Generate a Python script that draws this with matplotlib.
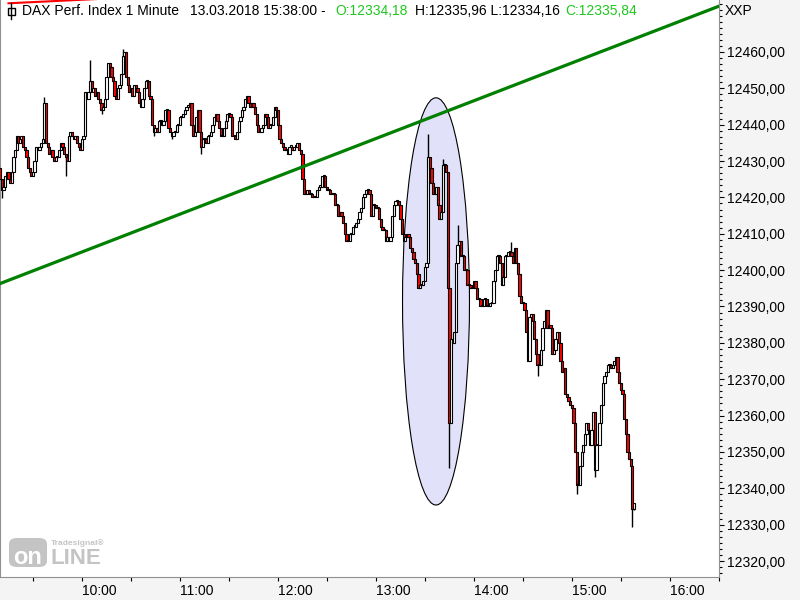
import numpy as np
import matplotlib.pyplot as plt
from matplotlib.patches import Ellipse, FancyBboxPatch, Rectangle
from matplotlib.lines import Line2D
from matplotlib.ticker import AutoMinorLocator

plt.rcParams['font.family'] = ['Liberation Sans', 'DejaVu Sans']

# DAX 1-minute closes from 09:10 to 15:38
closes = [
    12425, 12422, 12423, 12426, 12427, 12425, 12424, 12427, 12431, 12433,
    12437, 12435, 12436, 12437, 12434, 12433, 12431, 12428, 12427, 12426,
    12427, 12430, 12434, 12433, 12434, 12435, 12436, 12446, 12435, 12434,
    12432, 12433, 12431, 12430, 12431, 12431, 12433, 12435, 12434, 12432,
    12431, 12430, 12437, 12438, 12437, 12436, 12437, 12435, 12434, 12433,
    12436, 12437, 12449, 12447, 12449, 12452, 12449, 12450, 12448, 12449,
    12447, 12446, 12444, 12445, 12447, 12453, 12457, 12456, 12453, 12452,
    12448, 12447, 12450, 12451, 12454, 12459, 12460, 12453, 12451, 12449,
    12450, 12448, 12451, 12450, 12449, 12446, 12445, 12447, 12450, 12452,
    12452, 12448, 12447, 12440, 12438, 12439, 12438, 12441, 12441, 12440,
    12441, 12444, 12444, 12439, 12438, 12437, 12438, 12438, 12440, 12440,
    12442, 12442, 12443, 12444, 12445, 12445, 12446, 12440, 12437, 12438,
    12442, 12444, 12438, 12434, 12436, 12436, 12435, 12437, 12437, 12438,
    12440, 12442, 12443, 12441, 12439, 12437, 12437, 12439, 12441, 12443,
    12443, 12442, 12437, 12437, 12436, 12438, 12441, 12442, 12444, 12445,
    12447, 12448, 12446, 12445, 12446, 12445, 12443, 12440, 12438, 12438,
    12439, 12440, 12443, 12442, 12439, 12440, 12440, 12442, 12445, 12444,
    12440, 12436, 12435, 12434, 12433, 12433, 12432, 12434, 12434, 12433,
    12434, 12434, 12435, 12433, 12432, 12425, 12421, 12421, 12422, 12421,
    12421, 12420, 12420, 12420, 12422, 12423, 12423, 12426, 12426, 12423,
    12422, 12422, 12421, 12421, 12421, 12418, 12418, 12415, 12416, 12415,
    12413, 12410, 12408, 12408, 12410, 12410, 12412, 12412, 12413, 12414,
    12416, 12417, 12420, 12421, 12422, 12422, 12421, 12415, 12418, 12418,
    12417, 12417, 12414, 12412, 12411, 12411, 12408, 12409, 12408, 12409,
    12415, 12418, 12419, 12419, 12418, 12414, 12410, 12408, 12409, 12410,
    12409, 12406, 12405, 12403, 12402, 12399, 12395, 12396, 12396, 12397,
    12401, 12402, 12431, 12428, 12424, 12421, 12421, 12423, 12418, 12414,
    12416, 12429, 12429, 12427, 12395, 12358, 12381, 12380, 12383, 12402,
    12407, 12408, 12404, 12404, 12400, 12400, 12396, 12396, 12395, 12395,
    12397, 12395, 12392, 12392, 12390, 12390, 12392, 12392, 12390, 12390,
    12391, 12391, 12397, 12400, 12404, 12404, 12402, 12396, 12398, 12404,
    12404, 12405, 12405, 12404, 12402, 12406, 12402, 12399, 12393, 12391,
    12391, 12389, 12383, 12375, 12387, 12388, 12386, 12381, 12377, 12374,
    12374, 12378, 12384, 12386, 12389, 12384, 12385, 12384, 12377, 12378,
    12381, 12383, 12380, 12375, 12372, 12373, 12366, 12365, 12364, 12363,
    12362, 12358, 12350, 12341, 12341, 12346, 12350, 12352, 12355, 12358,
    12356, 12352, 12356, 12361, 12345, 12352, 12352, 12358, 12363, 12369,
    12371, 12372, 12374, 12374, 12373, 12374, 12375, 12376, 12372, 12369,
    12367, 12366, 12359, 12355, 12350, 12348, 12346, 12334.18, 12335.84,
]
first_open = 12428
start_minute = 10  # minutes after 09:00

# visible wicks beyond the bodies (candle index -> price)
wick_highs = {27: 12447.6, 55: 12457.8, 75: 12460.8, 262: 12437.5, 271: 12430.5,
              280: 12412.5, 313: 12407.7, 388: 12335.96}
wick_lows = {1: 12419.8, 40: 12426.0, 62: 12443.0, 94: 12437.0, 105: 12436.0,
             123: 12432.0, 275: 12345.6, 329: 12371.0, 353: 12338.5, 364: 12343.0,
             387: 12329.3, 388: 12334.16}

# drawings on the chart
trend_t = [9.8, 449.5]
trend_p = [12396.3, 12472.5]
red_t = [15, 80]
red_p = [12473.4, 12474.8]
ellipse_center = (276.8, 12391.4)
ellipse_size = (41.0, 112.0)

y_ticks = list(range(12320, 12461, 10))
x_ticks = list(range(30, 451, 30))

closes = np.array(closes, dtype=float)
opens = np.concatenate([[first_open], closes[:-1]])
highs = np.maximum(opens, closes)
lows = np.minimum(opens, closes)
for i, v in wick_highs.items():
    highs[i] = v
for i, v in wick_lows.items():
    lows[i] = v
t = start_minute + np.arange(len(closes))
up = closes >= opens


def px(x, y):
    # pixel position (from top-left) -> figure fraction
    return x / 800, 1 - y / 600


fig = plt.figure(figsize=(8, 6), dpi=100, facecolor='#f4f4f4')
ax = fig.add_axes([0, 23 / 600, 719 / 800, 577 / 600])
ax.set_facecolor('white')

# circled zone
ax.add_patch(Ellipse(ellipse_center, ellipse_size[0], ellipse_size[1],
                     facecolor='#e1e1f9', edgecolor='black', linewidth=0.8, zorder=1))

# candles
ax.vlines(t, lows, highs, color='black', linewidth=1.0, zorder=2)
body = np.maximum(np.abs(closes - opens), 0.3)
ax.bar(t, body, bottom=np.minimum(opens, closes), width=1.4,
       color=np.where(up, 'white', 'red'), edgecolor='black', linewidth=0.8, zorder=3)

# trend lines
ax.plot(trend_t, trend_p, color='#008000', linewidth=2.3, zorder=4)
ax.plot(red_t, red_p, color='red', linewidth=1.5, zorder=4)

ax.set_xlim(9.8, 450.1)
ax.set_ylim(12315.6, 12474.3)

# time axis: ticks every 30 min, labels on the hour
ax.set_xticks(x_ticks)
ax.set_xticklabels([f"{9 + v // 60}:00" if v % 60 == 0 else '' for v in x_ticks], ha='left')
ax.tick_params(axis='x', length=3, width=0.8, pad=2, labelsize=10)

# price axis on the right
ax.yaxis.tick_right()
ax.set_yticks(y_ticks)
ax.set_yticklabels([f"{v:.2f}".replace('.', ',') for v in y_ticks])
ax.yaxis.set_minor_locator(AutoMinorLocator(6))
ax.tick_params(axis='y', which='major', length=3.6, width=0.8, pad=2, labelsize=10)
ax.tick_params(axis='y', which='minor', length=1.8, width=0.8)

for side in ['left', 'bottom', 'right']:
    ax.spines[side].set_color('#909090')
ax.spines['top'].set_visible(False)

# header
fig.add_artist(Line2D([px(11, 3)[0]] * 2, [px(11, 3)[1], px(11, 19)[1]],
                      color='black', linewidth=1, transform=fig.transFigure))
fig.add_artist(Rectangle(px(7.5, 15), 7 / 800, 7 / 600, facecolor='white',
                         edgecolor='black', linewidth=1, transform=fig.transFigure))
head_y = px(0, 11)[1]
fig.text(22 / 800, head_y, 'DAX Perf. Index 1 Minute', fontsize=10, va='center')
fig.text(190 / 800, head_y, '13.03.2018 15:38:00 -', fontsize=10, va='center')
fig.text(335 / 800, head_y, 'O:12334,18', fontsize=10, va='center', color='#1ec81e')
fig.text(415 / 800, head_y, 'H:12335,96 L:12334,16', fontsize=10, va='center')
fig.text(565 / 800, head_y, 'C:12335,84', fontsize=10, va='center', color='#1ec81e')
fig.text(725 / 800, head_y, 'XXP', fontsize=10, va='center')

# watermark logo
logo_gray = '#c4c4c4'
fig.add_artist(FancyBboxPatch(px(9, 567), 38 / 800, 29 / 600,
                              boxstyle='round,pad=0,rounding_size=0.01',
                              facecolor=logo_gray, edgecolor='none',
                              transform=fig.transFigure))
fig.text(*px(28, 557), 'on', fontsize=17, fontweight='bold', color='white',
         ha='center', va='center')
fig.text(*px(50, 559), 'LINE', fontsize=16, fontweight='bold', color=logo_gray,
         ha='left', va='center')
fig.text(*px(51, 543), 'Tradesignal®', fontsize=6, fontweight='bold', color=logo_gray,
         ha='left', va='center')

plt.savefig('out.png', dpi=100, facecolor=fig.get_facecolor())
